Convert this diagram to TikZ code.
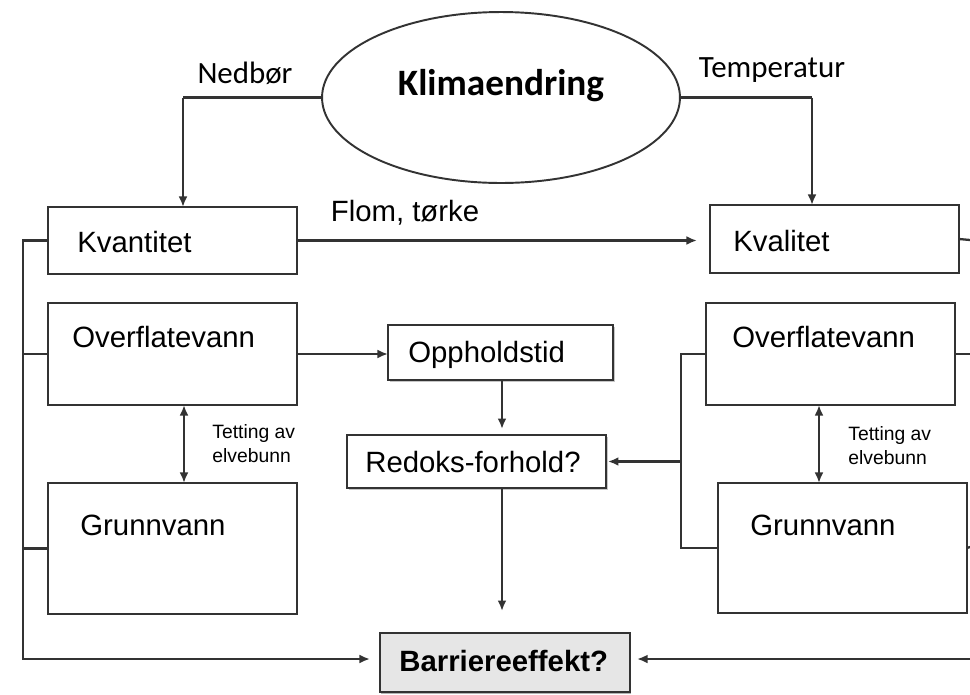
\documentclass[tikz,border=0pt]{standalone}
\usepackage{fontspec}
\setmainfont{Liberation Sans}
\newfontfamily\calib{Carlito}
\usetikzlibrary{arrows.meta,shadows,shapes.geometric}
\definecolor{ln}{HTML}{333333}
\definecolor{bfill}{HTML}{E6E6E6}
\begin{document}
\begin{tikzpicture}[x=0.02cm,y=-0.02cm,
  box/.style={draw=ln,rectangle,inner sep=0pt,outer sep=0pt,line width=1.3pt},
  shbox/.style={box,fill=white,drop shadow={shadow xshift=1.2pt,shadow yshift=-1.2pt,opacity=0.45}},
  lbl/.style={inner sep=0pt,anchor=base west,font=\fontsize{16.7}{20}\selectfont},
  small/.style={inner sep=0pt,anchor=west,align=left,font=\fontsize{11}{13.6}\selectfont},
  conn/.style={draw=ln,line width=1.3pt},
  arr/.style={conn,-{Latex[length=6pt,width=5pt]}},
  darr/.style={conn,{Latex[length=6pt,width=5pt]}-{Latex[length=6pt,width=5pt]}},
]
\useasboundingbox (0,0) rectangle (970,694);

% ellipse
\node[draw=ln,line width=1.1pt,ellipse,minimum width=7.16cm,minimum height=3.42cm,inner sep=0pt,outer sep=0pt] (klima) at (501,97.5) {};
\node[inner sep=0pt,font=\calib\bfseries\fontsize{21.2}{25}\selectfont] (klimatxt) at (501,86) {Klimaendring};
\node[inner sep=0pt,font=\calib\fontsize{17.6}{21}\selectfont] (nedbor) at (245,73) {Nedbør};
\node[inner sep=0pt,font=\calib\fontsize{17.6}{21}\selectfont] (temp) at (772,70) {Temperatur};

% boxes
\node[box,minimum width=4.98cm,minimum height=1.34cm] (kvant) at (172.5,240.5) {};
\node[box,minimum width=4.98cm,minimum height=1.36cm] (kval) at (834.5,239) {};
\node[box,minimum width=4.98cm,minimum height=2.04cm] (ofL) at (172.5,354) {};
\node[box,minimum width=4.98cm,minimum height=2.62cm] (grL) at (172.5,548.5) {};
\node[box,minimum width=4.98cm,minimum height=2.04cm] (ofR) at (830.5,354) {};
\node[box,minimum width=4.98cm,minimum height=2.60cm] (grR) at (842.5,548) {};
\node[shbox,minimum width=4.5cm,minimum height=1.1cm] (opph) at (500.5,352.5) {};
\node[shbox,minimum width=5.18cm,minimum height=1.06cm] (redoks) at (476.5,461.5) {};
\node[box,fill=bfill,drop shadow={shadow xshift=0.6pt,shadow yshift=-1.4pt,opacity=0.6},minimum width=5.0cm,minimum height=1.18cm] (barr) at (505,662.5) {};

% box texts
\node[lbl] (tkvant) at (77,252) {Kvantitet};
\node[lbl] (tkval) at (733,251) {Kvalitet};
\node[lbl] (tofL) at (72,347) {Overflatevann};
\node[lbl] (tofR) at (732,347) {Overflatevann};
\node[lbl] (tgrL) at (80,535) {Grunnvann};
\node[lbl] (tgrR) at (750,535) {Grunnvann};
\node[lbl] (topph) at (408,362) {Oppholdstid};
\node[lbl] (tredoks) at (365,472) {Redoks-forhold?};
\node[lbl,font=\bfseries\fontsize{16.7}{20}\selectfont] (tbarr) at (399,671) {Barriereeffekt?};
\node[inner sep=0pt,font=\fontsize{16.7}{20}\selectfont] (flom) at (405,213) {Flom, tørke};
\node[small] (tetL) at (212,443.5) {Tetting av\\elvebunn};
\node[small] (tetR) at (848,445.5) {Tetting av\\elvebunn};

% coordinates
\coordinate (nl) at (183,97.5);
\coordinate (nr) at (812,97.5);
\coordinate (busL) at (23,400);
\coordinate (busR) at (681,400);
\coordinate (dL) at (184,440);
\coordinate (dR) at (819,440);
\coordinate (mx) at (502,400);
\coordinate (eK) at (970,240);
\coordinate (eO) at (970,354);
\coordinate (eG) at (970,547);
\coordinate (eB) at (970,659);

% connectors from ellipse
\draw[conn] (klima.west) -- (nl);
\draw[arr] (nl) -- (nl |- kvant.north);
\draw[conn] (klima.east) -- (nr);
\draw[arr] (nr) -- (nr |- kval.north);

% flom, torke
\draw[arr,shorten >=7.4pt] (kvant.east) -- (kval.west |- kvant.east);

% left bus
\draw[arr,shorten >=5.7pt] (kvant.west) -- (kvant.west -| busL) -- (busL |- eB) -- (barr.west |- eB);
\draw[conn] (ofL.west) -- (ofL.west -| busL);
\draw[conn] (grL.west) -- (grL.west -| busL);

% double arrows
\draw[darr] (ofL.south -| dL) -- (grL.north -| dL);
\draw[darr] (ofR.south -| dR) -- (grR.north -| dR);

% middle chain
\draw[arr] (ofL.east) -- (opph.west |- ofL.east);
\draw[arr,shorten >=3.4pt] (opph.south -| mx) -- (redoks.north -| mx);
\draw[arr,shorten >=12.5pt] (redoks.south -| mx) -- (barr.north -| mx);

% right internal bus
\draw[conn] (ofR.west) -- (ofR.west -| busR) -- (busR |- grR.west) -- (grR.west);
\draw[arr,shorten >=1.1pt] (busR |- redoks.east) -- (redoks.east);

% right edge stubs
\draw[conn] (kval.east) -- (eK);
\draw[conn] (ofR.east) -- (eO);
\draw[conn] (grR.east) -- (eG);
\draw[arr,shorten >=4pt] (eB) -- (barr.east |- eB);
\end{tikzpicture}
\end{document}
